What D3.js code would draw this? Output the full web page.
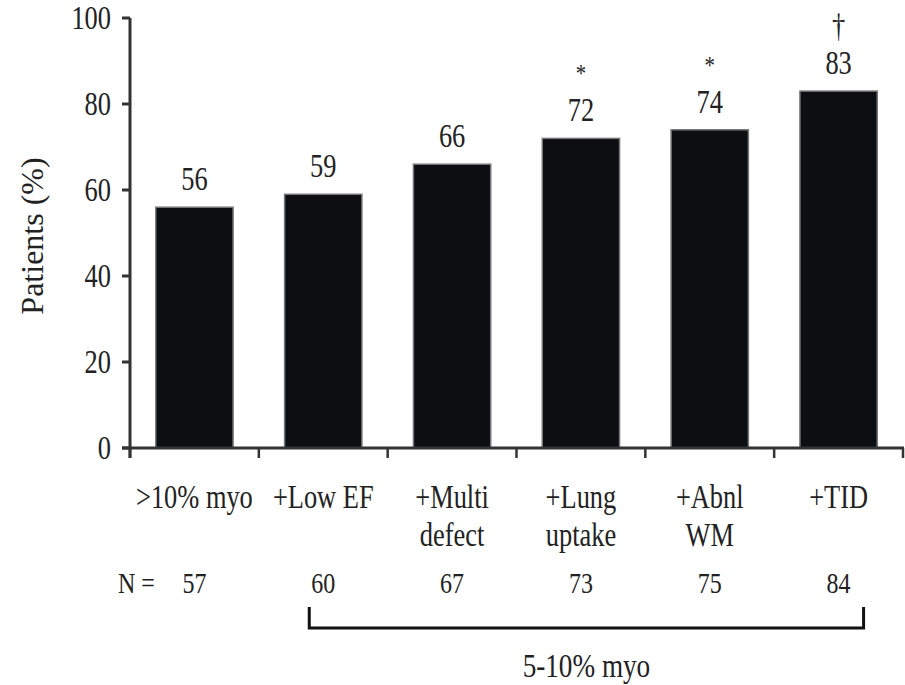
<!DOCTYPE html>
<html>
<head>
<meta charset="utf-8">
<script src="https://cdn.jsdelivr.net/npm/d3@7"></script>
<style>
  body { margin: 0; background: #fff; }
  text { font-family: "Liberation Serif", "Times New Roman", serif; fill: #222; }
</style>
</head>
<body>
<div id="chart"></div>
<script>
const categories = [">10% myo", "+Low EF", "+Multi\ndefect", "+Lung\nuptake", "+Abnl\nWM", "+TID"];
const percents = [56, 59, 66, 72, 74, 83];
const marks = ["", "", "", "*", "*", "\u2020"];
const nValues = [57, 60, 67, 73, 75, 84];
const yTicks = [0, 20, 40, 60, 80, 100];

const [width, height] = [905, 685];
const sx = 0.8; // the reference type is narrow

const svg = d3.select("#chart").append("svg")
  .attr("width", width)
  .attr("height", height);

const x = d3.scaleBand()
  .domain(categories)
  .range([130, 903])
  .paddingInner(0.4)
  .paddingOuter(0.2);

const y = d3.scaleLinear()
  .domain([0, 100])
  .range([448, 18]);

function label(g, px, py, str, size) {
  return g.append("text")
    .attr("transform", `translate(${px},${py}) scale(${sx},1)`)
    .attr("text-anchor", "middle")
    .attr("font-size", size)
    .text(str);
}

// bars
svg.selectAll("rect.bar")
  .data(percents)
  .enter().append("rect")
  .attr("class", "bar")
  .attr("x", (d, i) => x(categories[i]))
  .attr("y", d => y(d))
  .attr("width", x.bandwidth())
  .attr("height", d => y(0) - y(d))
  .attr("fill", "#0d0e12")
  .attr("stroke", "#777")
  .attr("stroke-width", 1.5);

// value labels and significance marks
percents.forEach((d, i) => {
  const cx = x(categories[i]) + x.bandwidth() / 2;
  label(svg, cx, y(d) - 17, d, 33);
  if (marks[i] === "*") label(svg, cx, y(d) - 56, "*", 26);
  if (marks[i] === "\u2020") label(svg, cx, y(d) - 54, "\u2020", 33);
});

// y axis
svg.append("line")
  .attr("x1", 130).attr("x2", 130)
  .attr("y1", y(100)).attr("y2", y(0) + 10)
  .attr("stroke", "#333").attr("stroke-width", 3);
yTicks.forEach(t => {
  svg.append("line")
    .attr("x1", 122).attr("x2", 130)
    .attr("y1", y(t)).attr("y2", y(t))
    .attr("stroke", "#333").attr("stroke-width", 3);
  svg.append("text")
    .attr("transform", `translate(111,${y(t) + 11}) scale(${sx},1)`)
    .attr("text-anchor", "end")
    .attr("font-size", 33)
    .text(t);
});

svg.append("text")
  .attr("transform", "translate(43,236) rotate(-90)")
  .attr("text-anchor", "middle")
  .attr("font-size", 32)
  .text("Patients (%)");

// x axis
svg.append("line")
  .attr("x1", 122).attr("x2", 904)
  .attr("y1", y(0)).attr("y2", y(0))
  .attr("stroke", "#333").attr("stroke-width", 3);
const step = x.step();
d3.range(categories.length + 1).forEach(i => {
  const tx = 130 + step * i;
  svg.append("line")
    .attr("x1", tx).attr("x2", tx)
    .attr("y1", y(0)).attr("y2", y(0) + 10)
    .attr("stroke", "#333").attr("stroke-width", 2.5);
});

// category labels
categories.forEach(c => {
  const cx = x(c) + x.bandwidth() / 2;
  c.split("\n").forEach((line, j) => {
    label(svg, cx, 508 + j * 38, line, 33);
  });
});

// N row
svg.append("text")
  .attr("transform", `translate(118,593) scale(${sx},1)`)
  .attr("font-size", 30)
  .text("N =");
nValues.forEach((n, i) => {
  const cx = x(categories[i]) + x.bandwidth() / 2;
  label(svg, cx, 593, n, 30);
});

// bracket for 5-10% myo group
const bx1 = x(categories[1]) + x.bandwidth() / 2 - 14;
const bx2 = x(categories[5]) + x.bandwidth() / 2 + 25;
svg.append("path")
  .attr("d", `M${bx1},607 V628 H${bx2} V607`)
  .attr("fill", "none")
  .attr("stroke", "#111")
  .attr("stroke-width", 3);
label(svg, (bx1 + bx2) / 2, 677, "5-10% myo", 34);
</script>
</body>
</html>
